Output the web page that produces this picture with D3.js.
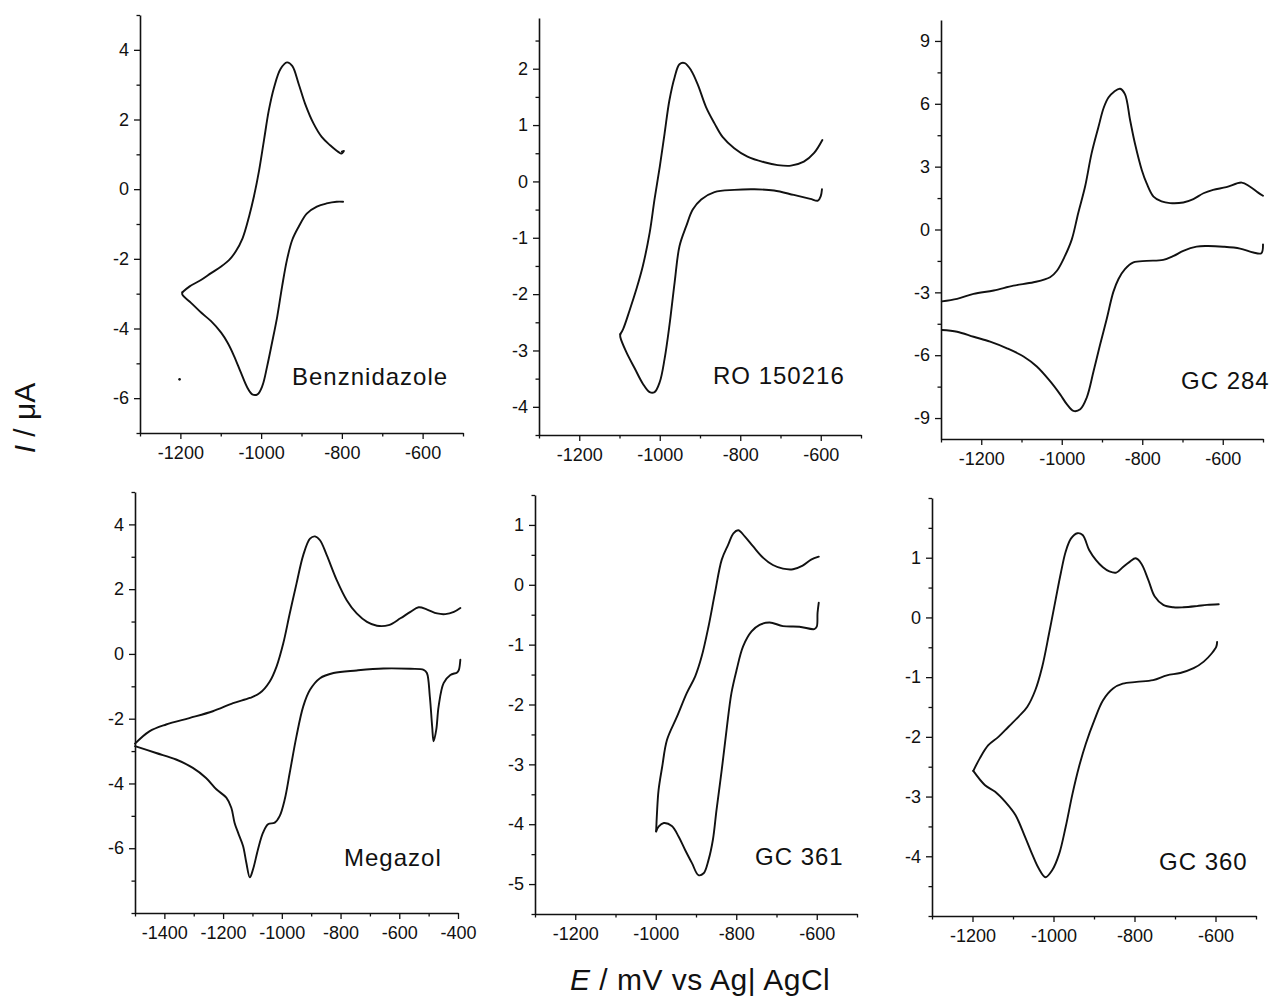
<!DOCTYPE html>
<html>
<head>
<meta charset="utf-8">
<script src="https://cdn.jsdelivr.net/npm/d3@7"></script>
<style>
  html, body { margin: 0; padding: 0; background: #fff; }
  svg { display: block; }
  text { font-family: "Liberation Sans", Arial, Helvetica, sans-serif; fill: #111; }
</style>
</head>
<body>
<svg id="chart" width="1274" height="1004"></svg>
<script>
// ---------------- DATA (E / mV, I / µA) ----------------
const benzUpper = [[-800,1.08],[-795,1.1],[-801,1.02],[-809,1.07],[-829,1.26],[-850,1.5],[-870,1.88],[-891,2.45],[-907,3.02],[-923,3.54],[-936,3.64],[-952,3.45],[-968,2.92],[-981,2.26],[-993,1.4],[-1005,0.54],[-1018,-0.22],[-1030,-0.79],[-1046,-1.41],[-1063,-1.79],[-1079,-2.03],[-1099,-2.22],[-1124,-2.41],[-1148,-2.6],[-1177,-2.79],[-1195,-2.96]];
const benzLower = [[-1195,-2.96],[-1195,-3.03],[-1173,-3.27],[-1148,-3.55],[-1124,-3.79],[-1099,-4.12],[-1083,-4.41],[-1067,-4.79],[-1050,-5.27],[-1034,-5.7],[-1022,-5.89],[-1009,-5.89],[-997,-5.65],[-985,-5.08],[-973,-4.41],[-960,-3.65],[-948,-2.79],[-936,-2.03],[-923,-1.46],[-907,-1.08],[-887,-0.7],[-862,-0.5],[-838,-0.41],[-813,-0.36],[-797,-0.36]];
const benzDot = [[-1202,-5.46]];

const roUpper = [[-596,0.735],[-617,0.5],[-642,0.35],[-674,0.28],[-707,0.29],[-740,0.34],[-782,0.44],[-815,0.59],[-844,0.79],[-864,1.03],[-885,1.32],[-905,1.71],[-922,1.97],[-938,2.1],[-951,2.08],[-963,1.85],[-976,1.44],[-988,0.85],[-1000,0.26],[-1013,-0.32],[-1025,-0.91],[-1042,-1.5],[-1058,-1.91],[-1075,-2.29],[-1091,-2.62],[-1098,-2.71]];
const roLower = [[-1098,-2.71],[-1098,-2.76],[-1083,-3.03],[-1062,-3.32],[-1042,-3.59],[-1025,-3.74],[-1013,-3.74],[-1000,-3.56],[-988,-3.15],[-976,-2.56],[-963,-1.79],[-951,-1.15],[-934,-0.79],[-918,-0.5],[-897,-0.32],[-864,-0.19],[-815,-0.15],[-765,-0.14],[-716,-0.16],[-667,-0.24],[-626,-0.31],[-607,-0.34],[-600,-0.26],[-597,-0.14]];

const gc284Upper = [[-1298,-3.43],[-1260,-3.31],[-1219,-3.07],[-1169,-2.91],[-1120,-2.68],[-1070,-2.52],[-1029,-2.28],[-1012,-1.97],[-992,-1.26],[-975,-0.47],[-959,0.79],[-942,2.05],[-926,3.62],[-909,4.88],[-896,5.8],[-884,6.3],[-870,6.58],[-855,6.72],[-843,6.46],[-830,5.2],[-818,4.09],[-801,2.83],[-789,2.2],[-772,1.57],[-752,1.34],[-731,1.26],[-698,1.29],[-673,1.45],[-648,1.73],[-624,1.89],[-591,2.02],[-553,2.24],[-533,2.05],[-512,1.76],[-500,1.61]];
const gc284Lower = [[-500,-0.71],[-504,-1.13],[-524,-1.1],[-557,-0.91],[-599,-0.82],[-640,-0.79],[-665,-0.82],[-698,-1.02],[-722,-1.26],[-748,-1.45],[-789,-1.5],[-822,-1.57],[-843,-1.89],[-859,-2.36],[-872,-2.99],[-888,-4.25],[-905,-5.51],[-921,-6.77],[-938,-8.03],[-954,-8.58],[-971,-8.66],[-987,-8.35],[-1004,-7.87],[-1029,-7.24],[-1062,-6.54],[-1095,-6.06],[-1136,-5.67],[-1178,-5.35],[-1219,-5.12],[-1260,-4.88],[-1298,-4.8]];

const megaUpper = [[-1500,-2.77],[-1451,-2.39],[-1394,-2.18],[-1315,-1.98],[-1235,-1.77],[-1166,-1.52],[-1109,-1.36],[-1075,-1.21],[-1041,-0.85],[-1018,-0.39],[-995,0.33],[-973,1.25],[-950,2.17],[-927,3.05],[-904,3.56],[-887,3.63],[-870,3.51],[-847,3.05],[-813,2.28],[-779,1.66],[-745,1.25],[-710,0.99],[-676,0.87],[-636,0.89],[-596,1.1],[-562,1.3],[-534,1.44],[-505,1.37],[-471,1.25],[-443,1.23],[-414,1.3],[-392,1.42]];
const megaLower = [[-1500,-2.85],[-1428,-3.06],[-1360,-3.26],[-1303,-3.52],[-1258,-3.83],[-1223,-4.18],[-1189,-4.44],[-1172,-4.75],[-1161,-5.21],[-1149,-5.52],[-1132,-5.93],[-1121,-6.44],[-1109,-6.9],[-1098,-6.65],[-1081,-6.03],[-1064,-5.52],[-1047,-5.26],[-1024,-5.21],[-1007,-5.0],[-990,-4.49],[-973,-3.67],[-950,-2.54],[-927,-1.62],[-904,-1.11],[-870,-0.75],[-824,-0.59],[-745,-0.51],[-654,-0.45],[-562,-0.46],[-517,-0.49],[-506,-0.59],[-496,-1.31],[-488,-2.24],[-483,-2.7],[-474,-2.34],[-466,-1.62],[-449,-0.9],[-426,-0.65],[-403,-0.57],[-397,-0.49],[-392,-0.18]];

const gc361Upper = [[-999,-4.12],[-997,-3.82],[-993,-3.43],[-984,-3.04],[-972,-2.59],[-947,-2.2],[-923,-1.81],[-902,-1.53],[-886,-1.2],[-869,-0.7],[-853,-0.14],[-836,0.42],[-820,0.67],[-807,0.86],[-795,0.91],[-779,0.81],[-758,0.64],[-733,0.45],[-709,0.33],[-684,0.27],[-659,0.26],[-635,0.32],[-614,0.42],[-595,0.47]];
const gc361Lower = [[-999,-4.12],[-993,-4.04],[-980,-3.98],[-960,-4.03],[-943,-4.21],[-927,-4.43],[-910,-4.65],[-894,-4.85],[-881,-4.82],[-869,-4.6],[-858,-4.26],[-849,-3.76],[-836,-3.09],[-824,-2.42],[-812,-1.81],[-799,-1.42],[-783,-1.03],[-762,-0.78],[-742,-0.67],[-717,-0.63],[-684,-0.69],[-643,-0.7],[-606,-0.74],[-600,-0.7],[-598,-0.47],[-595,-0.3]];

const gc360Upper = [[-1198,-2.57],[-1182,-2.36],[-1161,-2.14],[-1136,-2.0],[-1111,-1.83],[-1086,-1.66],[-1065,-1.5],[-1045,-1.22],[-1028,-0.83],[-1011,-0.27],[-995,0.29],[-982,0.74],[-970,1.1],[-957,1.32],[-941,1.41],[-928,1.38],[-912,1.13],[-895,0.96],[-878,0.84],[-862,0.77],[-845,0.75],[-829,0.84],[-812,0.93],[-797,0.99],[-783,0.9],[-766,0.63],[-750,0.35],[-729,0.21],[-704,0.17],[-679,0.17],[-646,0.19],[-621,0.21],[-592,0.22]];
const gc360Lower = [[-1198,-2.57],[-1169,-2.81],[-1144,-2.92],[-1119,-3.09],[-1094,-3.31],[-1070,-3.68],[-1053,-3.96],[-1036,-4.21],[-1020,-4.35],[-1003,-4.23],[-986,-3.96],[-970,-3.51],[-953,-2.95],[-937,-2.5],[-920,-2.11],[-899,-1.72],[-878,-1.39],[-853,-1.19],[-829,-1.11],[-795,-1.08],[-754,-1.05],[-720,-0.97],[-687,-0.93],[-654,-0.85],[-629,-0.74],[-609,-0.6],[-598,-0.49],[-596,-0.41]];

// tick labels
const xTicksStd = [-1200, -1000, -800, -600];
const xTicksMega = [-1400, -1200, -1000, -800, -600, -400];
const yTicksBenz = [-6, -4, -2, 0, 2, 4];
const yTicksRO = [-4, -3, -2, -1, 0, 1, 2];
const yTicks284 = [-9, -6, -3, 0, 3, 6, 9];
const yTicksMega = [-6, -4, -2, 0, 2, 4];
const yTicks361 = [-5, -4, -3, -2, -1, 0, 1];
const yTicks360 = [-4, -3, -2, -1, 0, 1];

const names = ["Benznidazole", "RO 150216", "GC 284", "Megazol", "GC 361", "GC 360"];

// ---------------- LAYOUT ----------------
const panels = [
  {name: names[0], curves: [benzUpper, benzLower], dots: benzDot, xd: [-1300,-500], yd: [-7,5], xt: xTicksStd, yt: yTicksBenz, xm: 100, ym: 1, box: {l:140, r:463, t:15, b:433}, lab: {x:292, y:385}},
  {name: names[1], curves: [roUpper, roLower], dots: [], xd: [-1300,-500], yd: [-4.5,2.9], xt: xTicksStd, yt: yTicksRO, xm: 100, ym: 0.5, box: {l:539, r:861, t:18, b:435}, lab: {x:713, y:384}},
  {name: names[2], curves: [gc284Upper, gc284Lower], dots: [], xd: [-1300,-500], yd: [-10,10], xt: xTicksStd, yt: yTicks284, xm: 100, ym: 1.5, box: {l:941, r:1263, t:20, b:439}, lab: {x:1181, y:389}},
  {name: names[3], curves: [megaUpper, megaLower], dots: [], xd: [-1500,-400], yd: [-8,5], xt: xTicksMega, yt: yTicksMega, xm: 100, ym: 1, box: {l:135, r:458, t:492, b:913}, lab: {x:344, y:866}},
  {name: names[4], curves: [gc361Upper, gc361Lower], dots: [], xd: [-1300,-500], yd: [-5.5,1.5], xt: xTicksStd, yt: yTicks361, xm: 100, ym: 0.5, box: {l:535, r:857, t:495, b:914}, lab: {x:755, y:865}},
  {name: names[5], curves: [gc360Upper, gc360Lower], dots: [], xd: [-1300,-500], yd: [-5,2], xt: xTicksStd, yt: yTicks360, xm: 100, ym: 0.5, box: {l:932, r:1256, t:498, b:916}, lab: {x:1159, y:870}}
];

const svg = d3.select("#chart");
const fmt = d => String(d);

function minorTicks(domain, step, majors) {
  const out = [];
  const n0 = Math.ceil(domain[0] / step - 1e-9), n1 = Math.floor(domain[1] / step + 1e-9);
  for (let k = n0; k <= n1; k++) {
    const v = +(k * step).toFixed(6);
    if (!majors.some(m => Math.abs(m - v) < 1e-6)) out.push(v);
  }
  return out;
}

panels.forEach(p => {
  const x = d3.scaleLinear().domain(p.xd).range([p.box.l, p.box.r]);
  const y = d3.scaleLinear().domain(p.yd).range([p.box.b, p.box.t]);
  const g = svg.append("g");

  // minor ticks
  g.append("g").attr("transform", `translate(0,${p.box.b})`)
    .call(d3.axisBottom(x).tickValues(minorTicks(p.xd, p.xm, p.xt)).tickSize(3.5).tickSizeOuter(0).tickFormat(""))
    .call(a => a.select(".domain").remove());
  g.append("g").attr("transform", `translate(${p.box.l},0)`)
    .call(d3.axisLeft(y).tickValues(minorTicks(p.yd, p.ym, p.yt)).tickSize(3.5).tickSizeOuter(0).tickFormat(""))
    .call(a => a.select(".domain").remove());

  // major axes
  const ax = g.append("g").attr("transform", `translate(0,${p.box.b})`)
    .call(d3.axisBottom(x).tickValues(p.xt).tickSize(6).tickPadding(7).tickSizeOuter(0).tickFormat(fmt));
  const ay = g.append("g").attr("transform", `translate(${p.box.l},0)`)
    .call(d3.axisLeft(y).tickValues(p.yt).tickSize(6).tickPadding(5).tickSizeOuter(0).tickFormat(fmt));
  [ax, ay].forEach(a => {
    a.selectAll("text").style("font-size", "18px").attr("fill", "#000");
  });
  g.selectAll(".domain").attr("stroke", "#111").attr("stroke-width", 1.6);
  g.selectAll(".tick line").attr("stroke", "#111").attr("stroke-width", 1.3);

  // curves
  const line = d3.line().x(d => x(d[0])).y(d => y(d[1])).curve(d3.curveCatmullRom.alpha(0.5));
  p.curves.forEach(c => {
    g.append("path").datum(c).attr("d", line)
      .attr("fill", "none").attr("stroke", "#111").attr("stroke-width", 1.9)
      .attr("stroke-linejoin", "round").attr("stroke-linecap", "round");
  });
  p.dots.forEach(d => {
    g.append("circle").attr("cx", x(d[0])).attr("cy", y(d[1])).attr("r", 1.3).attr("fill", "#111");
  });

  // compound label
  g.append("text").attr("x", p.lab.x).attr("y", p.lab.y)
    .style("font-size", "24px").style("letter-spacing", "1px").text(p.name);
});

// axis titles
const yt = svg.append("text").attr("transform", "translate(35,418) rotate(-90)")
  .attr("text-anchor", "middle").style("font-size", "30px");
yt.append("tspan").style("font-style", "italic").text("I");
yt.append("tspan").text(" / μA");

const xtl = svg.append("text").attr("x", 570).attr("y", 990)
  .style("font-size", "30px").style("letter-spacing", "0.5px");
xtl.append("tspan").style("font-style", "italic").text("E");
xtl.append("tspan").text(" / mV vs Ag| AgCl");
</script>
</body>
</html>
